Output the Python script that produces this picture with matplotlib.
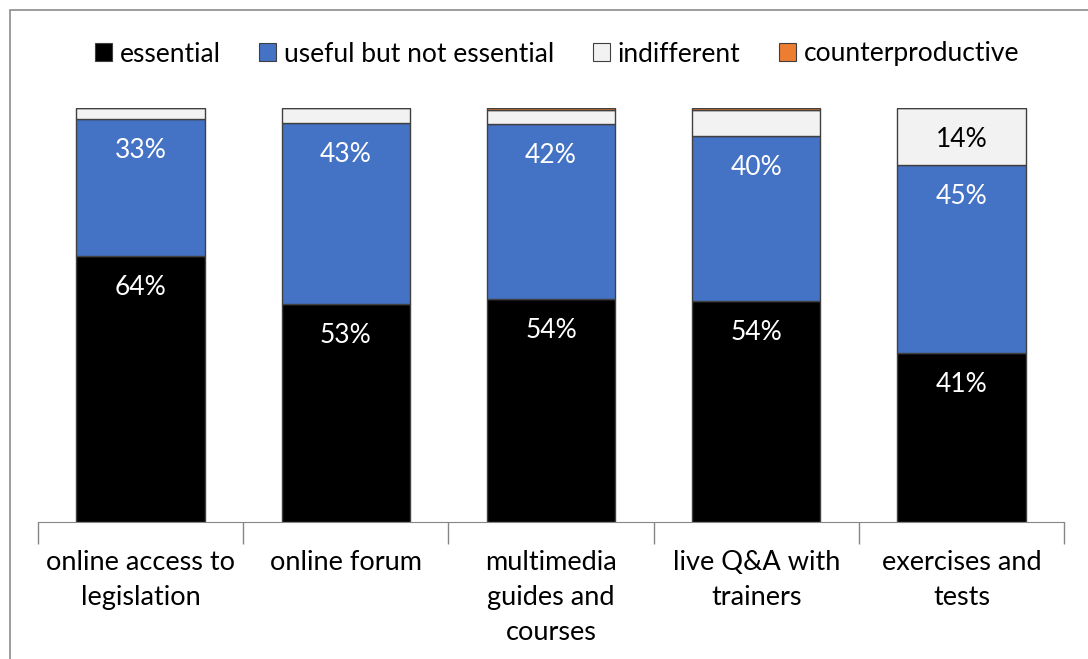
import matplotlib
matplotlib.use("Agg")
import matplotlib.pyplot as plt
from matplotlib.patches import Rectangle, Patch
import numpy as np

categories = ["online access to\nlegislation", "online forum", "multimedia\nguides and\ncourses",
              "live Q&A with\ntrainers", "exercises and\ntests"]
series_names = ["essential", "useful but not essential", "indifferent", "counterproductive"]
essential = [64.3, 52.7, 53.9, 53.4, 40.8]
useful = [33.0, 43.7, 42.2, 39.8, 45.4]
indifferent = [2.7, 3.6, 3.4, 6.3, 13.8]
counterproductive = [0.0, 0.0, 0.5, 0.5, 0.0]
essential_labels = ["64%", "53%", "54%", "54%", "41%"]
useful_labels = ["33%", "43%", "42%", "40%", "45%"]
indifferent_labels = ["", "", "", "", "14%"]

colors = ["#000000", "#4472C4", "#F2F2F2", "#ED7D31"]
text_colors = ["white", "white", "black", "black"]

plt.rcParams["font.family"] = ["Lato", "DejaVu Sans"]

fig = plt.figure(figsize=(10.88, 6.59), dpi=100)
ax = fig.add_axes([38 / 1088, 1 - 522 / 659, (1064 - 38) / 1088, (522 - 108) / 659])

# outer chart frame
fig.patches.append(Rectangle((10 / 1088, -0.1), 1.2, 1 - 10 / 659 + 0.1, transform=fig.transFigure,
                             fill=False, edgecolor="#8c8c8c", linewidth=1.2))

x = np.arange(len(categories))
width = 0.625
values = [essential, useful, indifferent, counterproductive]
labels = [essential_labels, useful_labels, indifferent_labels, ["", "", "", "", ""]]
bottom = np.zeros(len(categories))
total = np.sum(values, axis=0)
for i, vals in enumerate(values):
    v = np.array(vals) / total * 100
    ax.bar(x, v, width, bottom=bottom, color=colors[i], edgecolor="#404040", linewidth=1.0)
    for j in range(len(x)):
        if labels[i][j]:
            top = bottom[j] + v[j]
            ax.text(x[j], top - 7.6, labels[i][j], ha="center", va="center",
                    color=text_colors[i], fontsize=19)
    bottom = bottom + v

ax.set_xlim(-0.5, len(categories) - 0.5)
ax.set_ylim(0, 100)
for s in ["top", "right", "left"]:
    ax.spines[s].set_visible(False)
ax.spines["bottom"].set_color("#868686")
ax.set_yticks([])
ax.set_xticks(np.arange(-0.5, len(categories)), minor=False)
ax.set_xticklabels([])
ax.tick_params(axis="x", length=16, color="#868686", width=1)
ax.set_xticks(x, minor=True)
ax.set_xticklabels(categories, minor=True, fontsize=19.5, linespacing=1.5, va="top")
ax.tick_params(axis="x", which="minor", length=0, pad=20)

handles = [Patch(facecolor=c, edgecolor="#404040", linewidth=0.8) for c in colors]
fig.legend(handles, series_names, loc="center", bbox_to_anchor=(0.512, 1 - 54 / 659), ncol=4,
           frameon=False, fontsize=19, handlelength=0.65, handleheight=0.65, handletextpad=0.3,
           columnspacing=1.45)

fig.savefig("out.png", dpi=100)
